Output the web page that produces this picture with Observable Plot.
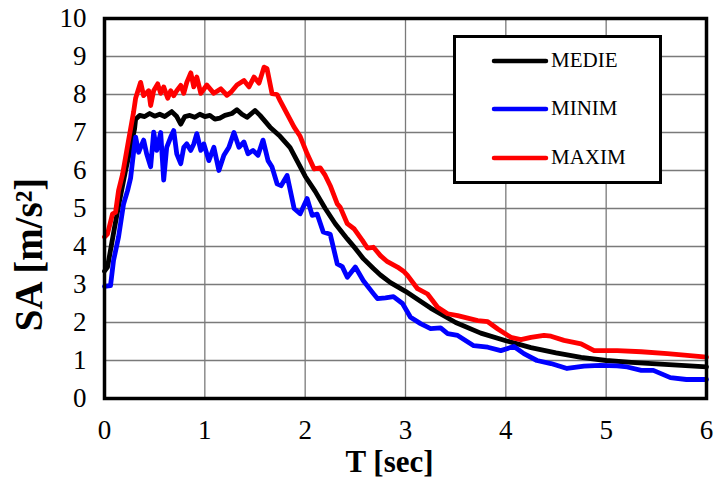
<!DOCTYPE html>
<html>
<head>
<meta charset="utf-8">
<script src="https://cdn.jsdelivr.net/npm/d3@7"></script>
<script src="https://cdn.jsdelivr.net/npm/@observablehq/plot@0.6"></script>
<style>
  html, body { margin: 0; padding: 0; background: #fff; }
  #wrap { position: relative; width: 715px; height: 479px; }
  #wrap svg text { font-family: "Liberation Serif", "Times New Roman", serif; }
  #legend { position: absolute; left: 453px; top: 35px; width: 203px; height: 143px;
    border: 3.5px solid #000; background: #fff; font-family: "Liberation Serif", serif; font-size: 21px; }
  .item { position: absolute; left: 35px; display: flex; align-items: center; }
  .item svg { display: block; margin-right: 2px; }
</style>
</head>
<body>
<div id="wrap"></div>
<script>
// Series names
const seriesNames = ["MEDIE", "MINIM", "MAXIM"];
const seriesColors = ["#000000", "#0000ff", "#ff0000"];

// Tick values
const xTicks = [0, 1, 2, 3, 4, 5, 6];
const yTicks = [0, 1, 2, 3, 4, 5, 6, 7, 8, 9, 10];

// MEDIE (mean)
const tMedie = [0, 0.03, 0.1, 0.15, 0.21, 0.26, 0.3, 0.31, 0.35, 0.4, 0.45, 0.5, 0.55, 0.6, 0.67, 0.72, 0.76, 0.8, 0.85, 0.9, 0.95, 1.0, 1.05, 1.1, 1.15, 1.2, 1.27, 1.32, 1.37, 1.42, 1.5, 1.55, 1.65, 1.75, 1.85, 1.95, 2.0, 2.1, 2.2, 2.3, 2.42, 2.5, 2.58, 2.68, 2.75, 2.85, 3.0, 3.25, 3.5, 3.75, 4.0, 4.25, 4.5, 4.75, 5.0, 5.25, 5.5, 5.75, 6.0];
const saMedie = [3.35, 3.46, 4.5, 5.2, 6.0, 6.6, 7.1, 7.35, 7.45, 7.42, 7.5, 7.43, 7.48, 7.42, 7.55, 7.42, 7.22, 7.42, 7.45, 7.4, 7.48, 7.42, 7.45, 7.35, 7.38, 7.45, 7.5, 7.6, 7.48, 7.4, 7.58, 7.45, 7.14, 6.9, 6.6, 6.1, 5.85, 5.45, 5.0, 4.6, 4.2, 3.95, 3.68, 3.42, 3.25, 3.05, 2.82, 2.38, 2.0, 1.72, 1.52, 1.34, 1.2, 1.08, 1.0, 0.95, 0.91, 0.87, 0.83];

// MINIM (minimum)
const tMinim = [0, 0.06, 0.09, 0.14, 0.19, 0.23, 0.26, 0.29, 0.31, 0.34, 0.39, 0.42, 0.46, 0.49, 0.52, 0.56, 0.59, 0.62, 0.66, 0.69, 0.72, 0.76, 0.79, 0.82, 0.86, 0.89, 0.92, 0.96, 0.99, 1.04, 1.09, 1.14, 1.19, 1.24, 1.29, 1.34, 1.39, 1.43, 1.48, 1.53, 1.58, 1.63, 1.67, 1.72, 1.76, 1.82, 1.89, 1.95, 2.02, 2.07, 2.12, 2.18, 2.25, 2.32, 2.37, 2.42, 2.5, 2.58, 2.68, 2.72, 2.8, 2.88, 2.97, 3.05, 3.15, 3.25, 3.35, 3.42, 3.52, 3.68, 3.82, 3.95, 4.08, 4.18, 4.31, 4.45, 4.61, 4.78, 4.94, 5.11, 5.21, 5.35, 5.47, 5.64, 5.8, 6.0];
const saMinim = [2.95, 2.97, 3.63, 4.25, 5.12, 5.47, 5.8, 6.48, 6.88, 6.48, 6.8, 6.44, 6.1, 7.01, 6.53, 7.0, 5.75, 6.61, 6.88, 7.05, 6.44, 6.18, 6.61, 6.7, 6.53, 6.7, 6.97, 6.53, 6.7, 6.26, 6.61, 6.0, 6.4, 6.61, 7.0, 6.61, 6.75, 6.44, 6.53, 6.4, 6.8, 6.26, 6.09, 5.65, 5.6, 5.87, 5.0, 4.86, 5.26, 4.82, 4.85, 4.38, 4.32, 3.54, 3.47, 3.19, 3.46, 3.1, 2.76, 2.63, 2.65, 2.68, 2.5, 2.14, 1.97, 1.84, 1.86, 1.71, 1.66, 1.39, 1.35, 1.26, 1.37, 1.18, 1.0, 0.92, 0.79, 0.85, 0.87, 0.86, 0.83, 0.74, 0.74, 0.55, 0.5, 0.5];

// MAXIM (maximum)
const tMaxim = [0, 0.03, 0.08, 0.11, 0.14, 0.18, 0.23, 0.29, 0.31, 0.36, 0.39, 0.44, 0.46, 0.49, 0.53, 0.56, 0.59, 0.63, 0.66, 0.69, 0.72, 0.76, 0.79, 0.82, 0.86, 0.89, 0.92, 0.96, 1.02, 1.09, 1.16, 1.22, 1.26, 1.32, 1.39, 1.44, 1.49, 1.54, 1.59, 1.62, 1.67, 1.72, 1.75, 1.82, 1.89, 1.95, 2.02, 2.09, 2.15, 2.2, 2.25, 2.32, 2.35, 2.42, 2.49, 2.57, 2.62, 2.68, 2.75, 2.82, 2.92, 2.98, 3.02, 3.12, 3.22, 3.32, 3.42, 3.52, 3.58, 3.72, 3.82, 3.92, 4.05, 4.15, 4.25, 4.38, 4.45, 4.58, 4.75, 4.88, 5.11, 5.35, 5.61, 5.78, 6.0];
const saMaxim = [4.25, 4.33, 4.86, 4.9, 5.47, 5.9, 6.65, 7.54, 7.9, 8.32, 7.97, 8.1, 7.71, 8.1, 8.28, 8.03, 8.2, 7.9, 8.1, 7.97, 8.1, 8.24, 8.03, 8.32, 8.57, 8.2, 8.46, 8.03, 8.25, 8.03, 8.15, 7.98, 8.06, 8.25, 8.37, 8.2, 8.46, 8.3, 8.72, 8.68, 8.02, 8.0, 7.84, 7.49, 7.14, 6.9, 6.44, 6.04, 6.07, 5.87, 5.6, 5.12, 5.03, 4.6, 4.46, 4.16, 3.96, 3.98, 3.76, 3.6, 3.46, 3.35, 3.24, 2.89, 2.75, 2.4, 2.23, 2.18, 2.14, 2.05, 2.02, 1.83, 1.61, 1.55, 1.61, 1.66, 1.64, 1.53, 1.44, 1.26, 1.26, 1.23, 1.18, 1.14, 1.09];

const xLabel = "T [sec]";
const yLabel = "SA [m/s²]";

const toRows = (ts, vs, name) => ts.map((t, i) => ({T: t, SA: vs[i], series: name}));
const medie = toRows(tMedie, saMedie, seriesNames[0]);
const minim = toRows(tMinim, saMinim, seriesNames[1]);
const maxim = toRows(tMaxim, saMaxim, seriesNames[2]);

const serif = "'Liberation Serif', 'Times New Roman', serif";
const lineOpts = (c) => ({x: "T", y: "SA", stroke: c, strokeWidth: 4.8, strokeLinejoin: "round", strokeLinecap: "round"});

const chart = Plot.plot({
  width: 715,
  height: 479,
  marginLeft: 104,
  marginRight: 9,
  marginTop: 18,
  marginBottom: 81,
  style: {fontFamily: serif, background: "#fff", color: "#000"},
  x: {domain: [0, 6]},
  y: {domain: [0, 10]},
  marks: [
    Plot.gridY(yTicks.slice(1, -1), {stroke: "#7a7a7a", strokeOpacity: 1, strokeWidth: 1.3}),
    Plot.gridX(xTicks.slice(1, -1), {stroke: "#7a7a7a", strokeOpacity: 1, strokeWidth: 1.3}),
    Plot.line(medie, lineOpts(seriesColors[0])),
    Plot.line(minim, lineOpts(seriesColors[1])),
    Plot.line(maxim, lineOpts(seriesColors[2])),
    Plot.frame({stroke: "#000", strokeWidth: 3.5}),
    Plot.axisX(xTicks, {tickSize: 0, tickPadding: 21, fontSize: 27, fontFamily: serif, label: null, tickFormat: d => String(d)}),
    Plot.axisY(yTicks, {tickSize: 0, tickPadding: 18, fontSize: 27, fontFamily: serif, label: null, tickFormat: d => String(d)}),
    Plot.text([xLabel], {frameAnchor: "bottom", dx: -16, dy: 64, fontSize: 31, fontFamily: serif, fontWeight: "bold", textAnchor: "middle", lineAnchor: "middle"}),
    Plot.text([yLabel], {frameAnchor: "left", rotate: -90, dx: -75, dy: 46, fontSize: 39, fontFamily: serif, fontWeight: "bold", textAnchor: "middle", lineAnchor: "middle"})
  ]
});

const wrap = document.getElementById("wrap");
wrap.appendChild(chart);

// Legend
const legend = document.createElement("div");
legend.id = "legend";
const rowsTop = [10, 58, 107];
seriesNames.forEach((name, i) => {
  const item = document.createElement("div");
  item.className = "item";
  item.style.top = rowsTop[i] + "px";
  item.innerHTML = `<svg width="58" height="10"><line x1="3" y1="5" x2="55" y2="5" stroke="${seriesColors[i]}" stroke-width="4.5" stroke-linecap="round"/></svg><span>${name}</span>`;
  legend.appendChild(item);
});
wrap.appendChild(legend);
</script>
</body>
</html>
